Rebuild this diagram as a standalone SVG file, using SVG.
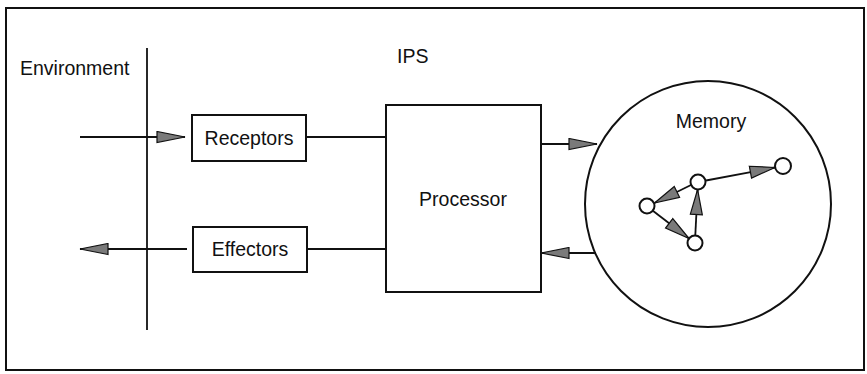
<svg xmlns="http://www.w3.org/2000/svg" width="867" height="374" viewBox="0 0 867 374">
<style>
.t{font-family:"Liberation Sans",Arial,sans-serif;font-size:19.5px;fill:#111}
.b{fill:#fff;stroke:#111;stroke-width:2}
.l{stroke:#111;stroke-width:1.8;fill:none}
</style>
<defs>
<marker id="ah" viewBox="0 0 30 13" refX="29" refY="6.5" markerWidth="30" markerHeight="13" markerUnits="userSpaceOnUse" orient="auto">
<path d="M1,1 L29,6.5 L1,12 Z" fill="#7a7a7a" stroke="#111" stroke-width="1.2"/>
</marker>
<marker id="as" viewBox="0 0 27 14" refX="26" refY="7" markerWidth="27" markerHeight="14" markerUnits="userSpaceOnUse" orient="auto">
<path d="M1,1 L26,7 L1,13 Z" fill="#7a7a7a" stroke="#111" stroke-width="1.2"/>
</marker>
</defs>
<rect x="6" y="8" width="858" height="362" fill="#fff" stroke="#111" stroke-width="2"/>
<g id="environment">
<text class="t" x="20" y="75">Environment</text>
<line class="l" x1="147" y1="48" x2="147" y2="330"/>
</g>
<g id="ips"><text class="t" x="397" y="63">IPS</text></g>
<g id="receptors">
<rect class="b" x="192" y="115" width="114" height="46"/>
<text class="t" x="249" y="145" text-anchor="middle">Receptors</text>
</g>
<g id="effectors">
<rect class="b" x="193" y="227" width="114" height="45"/>
<text class="t" x="250" y="256" text-anchor="middle">Effectors</text>
</g>
<g id="processor">
<rect class="b" x="386" y="105" width="155" height="187"/>
<text class="t" x="463" y="206" text-anchor="middle">Processor</text>
</g>
<g id="memory">
<circle class="b" cx="708" cy="204" r="123"/>
<text class="t" x="711" y="128" text-anchor="middle">Memory</text>
</g>
<g id="memnodes">
<circle id="nA" class="b" cx="698" cy="182" r="7.5"/>
<circle id="nB" class="b" cx="783" cy="166" r="8"/>
<circle id="nC" class="b" cx="647" cy="206" r="7.5"/>
<circle id="nD" class="b" cx="695" cy="243" r="7.5"/>
</g>
<g id="connectors">
<line class="l" x1="80" y1="137" x2="185" y2="137" marker-end="url(#ah)"/>
<line class="l" x1="187" y1="249" x2="80" y2="249" marker-end="url(#ah)"/>
<line class="l" x1="306" y1="137" x2="386" y2="137"/>
<line class="l" x1="307" y1="249" x2="386" y2="249"/>
<line class="l" x1="541" y1="144" x2="597" y2="144" marker-end="url(#ah)"/>
<line class="l" x1="596" y1="253" x2="541" y2="253" marker-end="url(#ah)"/>
<line class="l" x1="706" y1="180.5" x2="775" y2="167.5" marker-end="url(#as)"/>
<line class="l" x1="691" y1="185" x2="654.5" y2="203" marker-end="url(#as)"/>
<line class="l" x1="652.5" y1="210.5" x2="689" y2="238.5" marker-end="url(#as)"/>
<line class="l" x1="695.3" y1="235.5" x2="697.6" y2="189.5" marker-end="url(#as)"/>
</g>
</svg>
